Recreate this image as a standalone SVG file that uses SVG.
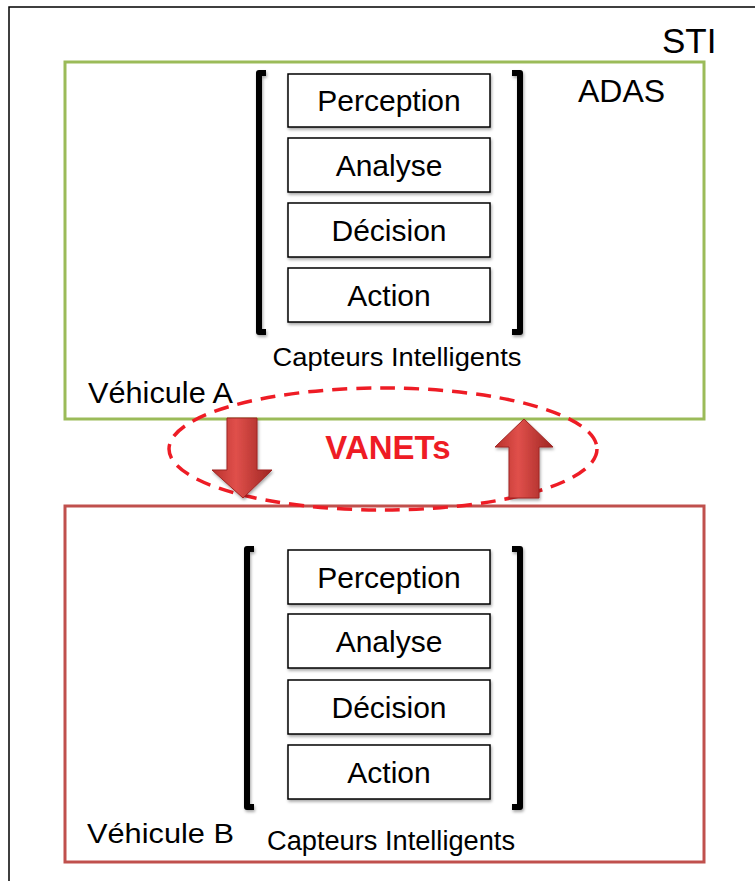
<svg xmlns="http://www.w3.org/2000/svg" width="755" height="881" viewBox="0 0 755 881">
<style>
.t{font-family:"Liberation Sans",Arial,sans-serif;fill:#000}
.box{fill:#fff;stroke:#000;stroke-width:1.5}
.br{fill:none;stroke:#000;stroke-width:6;stroke-linejoin:round}
.bt{font-size:30px;text-anchor:middle}
</style>
<defs>
<filter id="sh" x="-10%" y="-10%" width="120%" height="130%"><feDropShadow dx="1" dy="2" stdDeviation="1.5" flood-color="#000" flood-opacity="0.35"/></filter>
<linearGradient id="ag" x1="0" y1="0" x2="1" y2="0"><stop offset="0" stop-color="#b8302c"/><stop offset="0.4" stop-color="#e0504b"/><stop offset="1" stop-color="#9e2522"/></linearGradient>
</defs>
<rect x="0" y="0" width="755" height="881" fill="#fff"/>
<path d="M9,881 V7 H760" fill="none" stroke="#000" stroke-width="1.5"/>
<text class="t" x="662" y="53" font-size="35">STI</text>
<g id="vehiculeA">
<rect x="65" y="62" width="639" height="357" fill="none" stroke="#9bbb59" stroke-width="3"/>
<text class="t" x="578" y="102" font-size="32">ADAS</text>
<g filter="url(#sh)">
<path class="br" d="M266,73 H259 V332 H266"/>
<path class="br" d="M512,73 H520 V332 H512"/>
<rect class="box" x="288" y="74" width="202" height="53"/>
<rect class="box" x="288" y="138" width="202" height="54"/>
<rect class="box" x="288" y="203" width="202" height="54"/>
<rect class="box" x="288" y="268" width="202" height="54"/>
</g>
<text class="t bt" x="389" y="111">Perception</text>
<text class="t bt" x="389" y="176">Analyse</text>
<text class="t bt" x="389" y="241">Décision</text>
<text class="t bt" x="389" y="306">Action</text>
<text class="t" x="397" y="366" font-size="26" text-anchor="middle" textLength="249" lengthAdjust="spacingAndGlyphs">Capteurs Intelligents</text>
<text class="t" x="88" y="403" font-size="30" textLength="145" lengthAdjust="spacingAndGlyphs">Véhicule A</text>
</g>
<g id="vehiculeB">
<rect x="65" y="506" width="639" height="356" fill="none" stroke="#c0504d" stroke-width="3"/>
<g filter="url(#sh)">
<path class="br" d="M254,549 H247 V807 H254"/>
<path class="br" d="M512,549 H520 V807 H512"/>
<rect class="box" x="288" y="550" width="202" height="54"/>
<rect class="box" x="288" y="614" width="202" height="54"/>
<rect class="box" x="288" y="680" width="202" height="54"/>
<rect class="box" x="288" y="745" width="202" height="54"/>
</g>
<text class="t bt" x="389" y="588">Perception</text>
<text class="t bt" x="389" y="652">Analyse</text>
<text class="t bt" x="389" y="718">Décision</text>
<text class="t bt" x="389" y="783">Action</text>
<text class="t" x="87" y="843" font-size="27" textLength="147" lengthAdjust="spacingAndGlyphs">Véhicule  B</text>
<text class="t" x="391" y="850" font-size="27" text-anchor="middle" textLength="248" lengthAdjust="spacingAndGlyphs">Capteurs Intelligents</text>
</g>
<g id="vanets">
<ellipse cx="383" cy="449" rx="214" ry="61" fill="none" stroke="#ee1c25" stroke-width="3.5" stroke-dasharray="15 9"/>
<text x="388" y="459" font-family="Liberation Sans,Arial,sans-serif" font-weight="bold" font-size="33" fill="#ee1c25" text-anchor="middle">VANETs</text>
</g>
<g id="connectors">
<path d="M227,418 H257 V470 H272 L243,498 L212,470 H227 Z" fill="url(#ag)" stroke="#9e2522" stroke-width="1" filter="url(#sh)"/>
<path d="M509,498 H539 V447 H553 L524,419 L495,447 H509 Z" fill="url(#ag)" stroke="#9e2522" stroke-width="1" filter="url(#sh)"/>
</g>
</svg>
